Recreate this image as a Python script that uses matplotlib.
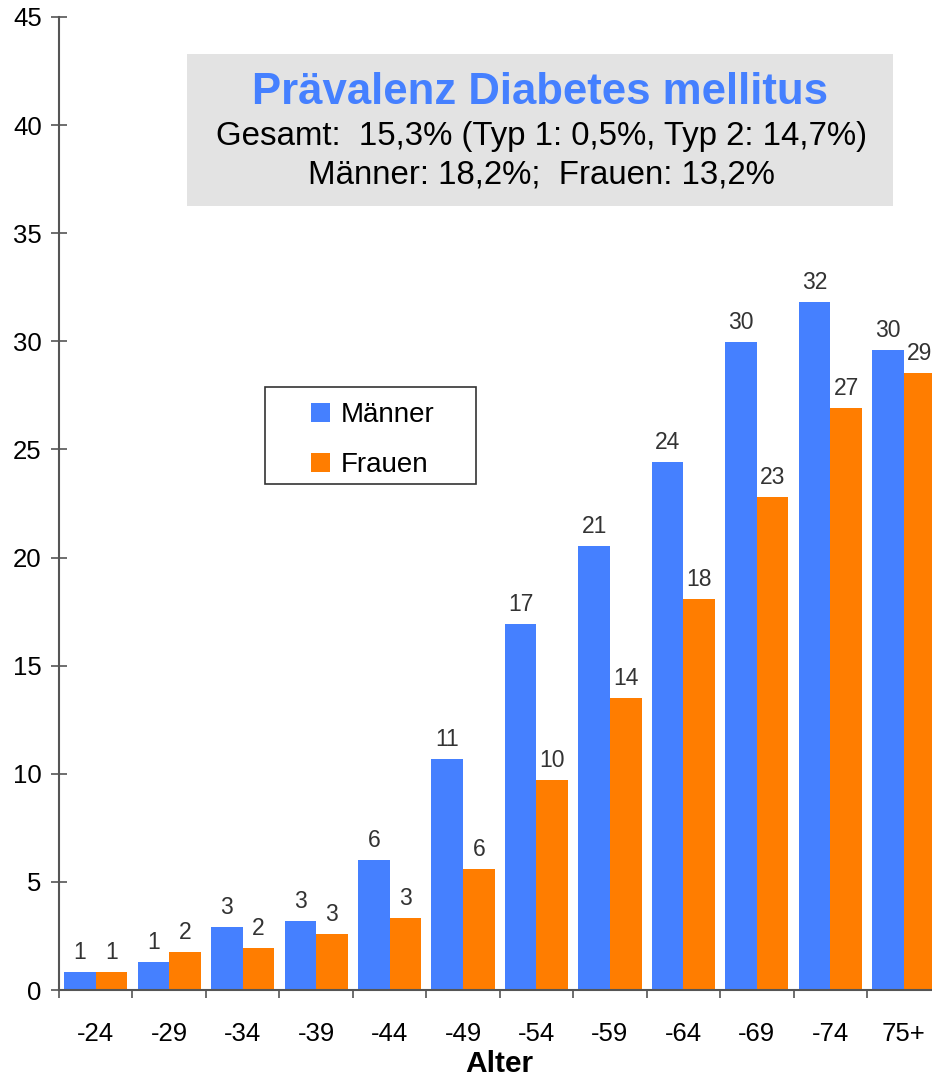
import matplotlib
matplotlib.use("Agg")
import matplotlib.pyplot as plt
import numpy as np
from matplotlib.patches import Rectangle

plt.rcParams['font.family'] = ['Liberation Sans', 'DejaVu Sans']

# Age groups and prevalence (%) by sex
age_groups = ["-24", "-29", "-34", "-39", "-44", "-49", "-54", "-59", "-64", "-69", "-74", "75+"]
maenner = [0.83, 1.30, 2.91, 3.19, 6.01, 10.68, 16.93, 20.55, 24.42, 29.97, 31.82, 29.60]
frauen = [0.83, 1.76, 1.94, 2.59, 3.33, 5.60, 9.71, 13.52, 18.08, 22.80, 26.92, 28.54]
series_names = ["Männer", "Frauen"]

yticks = [0, 5, 10, 15, 20, 25, 30, 35, 40, 45]

title = "Prävalenz Diabetes mellitus"
subtitle_1 = "Gesamt:  15,3% (Typ 1: 0,5%, Typ 2: 14,7%)"
subtitle_2 = "Männer: 18,2%;  Frauen: 13,2%"
xlabel = "Alter"

BLUE = "#4580FF"
ORANGE = "#FF7D00"
AXIS = "#555555"

W, H = 932, 1080
fig = plt.figure(figsize=(W / 100, H / 100), dpi=100)
x0, x1 = 59, 940.5
y0, y1 = 990, 17
ax = fig.add_axes([x0 / W, 1 - y0 / H, (x1 - x0) / W, (y0 - y1) / H])

n = len(age_groups)
x = np.arange(n)
bw = 0.43
b1 = ax.bar(x - bw / 2, maenner, bw, color=BLUE, label=series_names[0], zorder=2)
b2 = ax.bar(x + bw / 2, frauen, bw, color=ORANGE, label=series_names[1], zorder=2)

for bars, vals in ((b1, maenner), (b2, frauen)):
    for rect, v in zip(bars, vals):
        ax.annotate(f"{v:.0f}", (rect.get_x() + rect.get_width() / 2, v),
                    xytext=(0, 5.5), textcoords="offset points",
                    ha="center", va="bottom", fontsize=16.5, color="#333333",
                    family=["Liberation Sans Narrow", "Liberation Sans"])

ax.set_xlim(-0.5, n - 0.5)
ax.set_ylim(0, 45)
ax.set_yticks(yticks)
ax.tick_params(axis="y", direction="inout", length=11, width=1.2, color=AXIS,
               labelsize=18.5, pad=7)
ax.set_xticks(x)
ax.set_xticklabels(age_groups)
ax.set_xticks(np.arange(n + 1) - 0.5, minor=True)
ax.tick_params(axis="x", which="major", length=0, labelsize=18.5, pad=23)
ax.tick_params(axis="x", which="minor", direction="out", length=6, width=1.2, color=AXIS)

for s in ("top", "right"):
    ax.spines[s].set_visible(False)
for s in ("left", "bottom"):
    ax.spines[s].set_color(AXIS)
    ax.spines[s].set_linewidth(1.5)

ax.set_xlabel(xlabel, fontsize=21.5, fontweight="bold", labelpad=3)

# Title box
fig.patches.append(Rectangle((187 / W, 1 - 206 / H), (893 - 187) / W, (206 - 54) / H,
                             transform=fig.transFigure, facecolor="#E3E3E3",
                             edgecolor="none", zorder=0))
fig.text(540 / W, 1 - 92 / H, title, ha="center", va="center", fontsize=31.5,
         fontweight="bold", color=BLUE)
fig.text(541 / W, 1 - 136 / H, subtitle_1, ha="center", va="center", fontsize=23.8, color="black")
fig.text(541 / W, 1 - 175 / H, subtitle_2, ha="center", va="center", fontsize=23.8, color="black")

# Legend frame and entries
fig.patches.append(Rectangle((265 / W, 1 - 484 / H), (476 - 265) / W, (484 - 387) / H,
                             transform=fig.transFigure, facecolor="white",
                             edgecolor="#333333", linewidth=1.2, zorder=3))
leg = fig.legend(handles=[b1, b2], labels=series_names, loc="upper left",
                 bbox_to_anchor=(311 / W, 1 - 402 / H), fontsize=20, frameon=False,
                 handlelength=0.68, handleheight=0.68,
                 handletextpad=0.4, borderpad=0.0, labelspacing=0.88, borderaxespad=0)
leg.set_zorder(4)

fig.savefig("out.png", dpi=100)
